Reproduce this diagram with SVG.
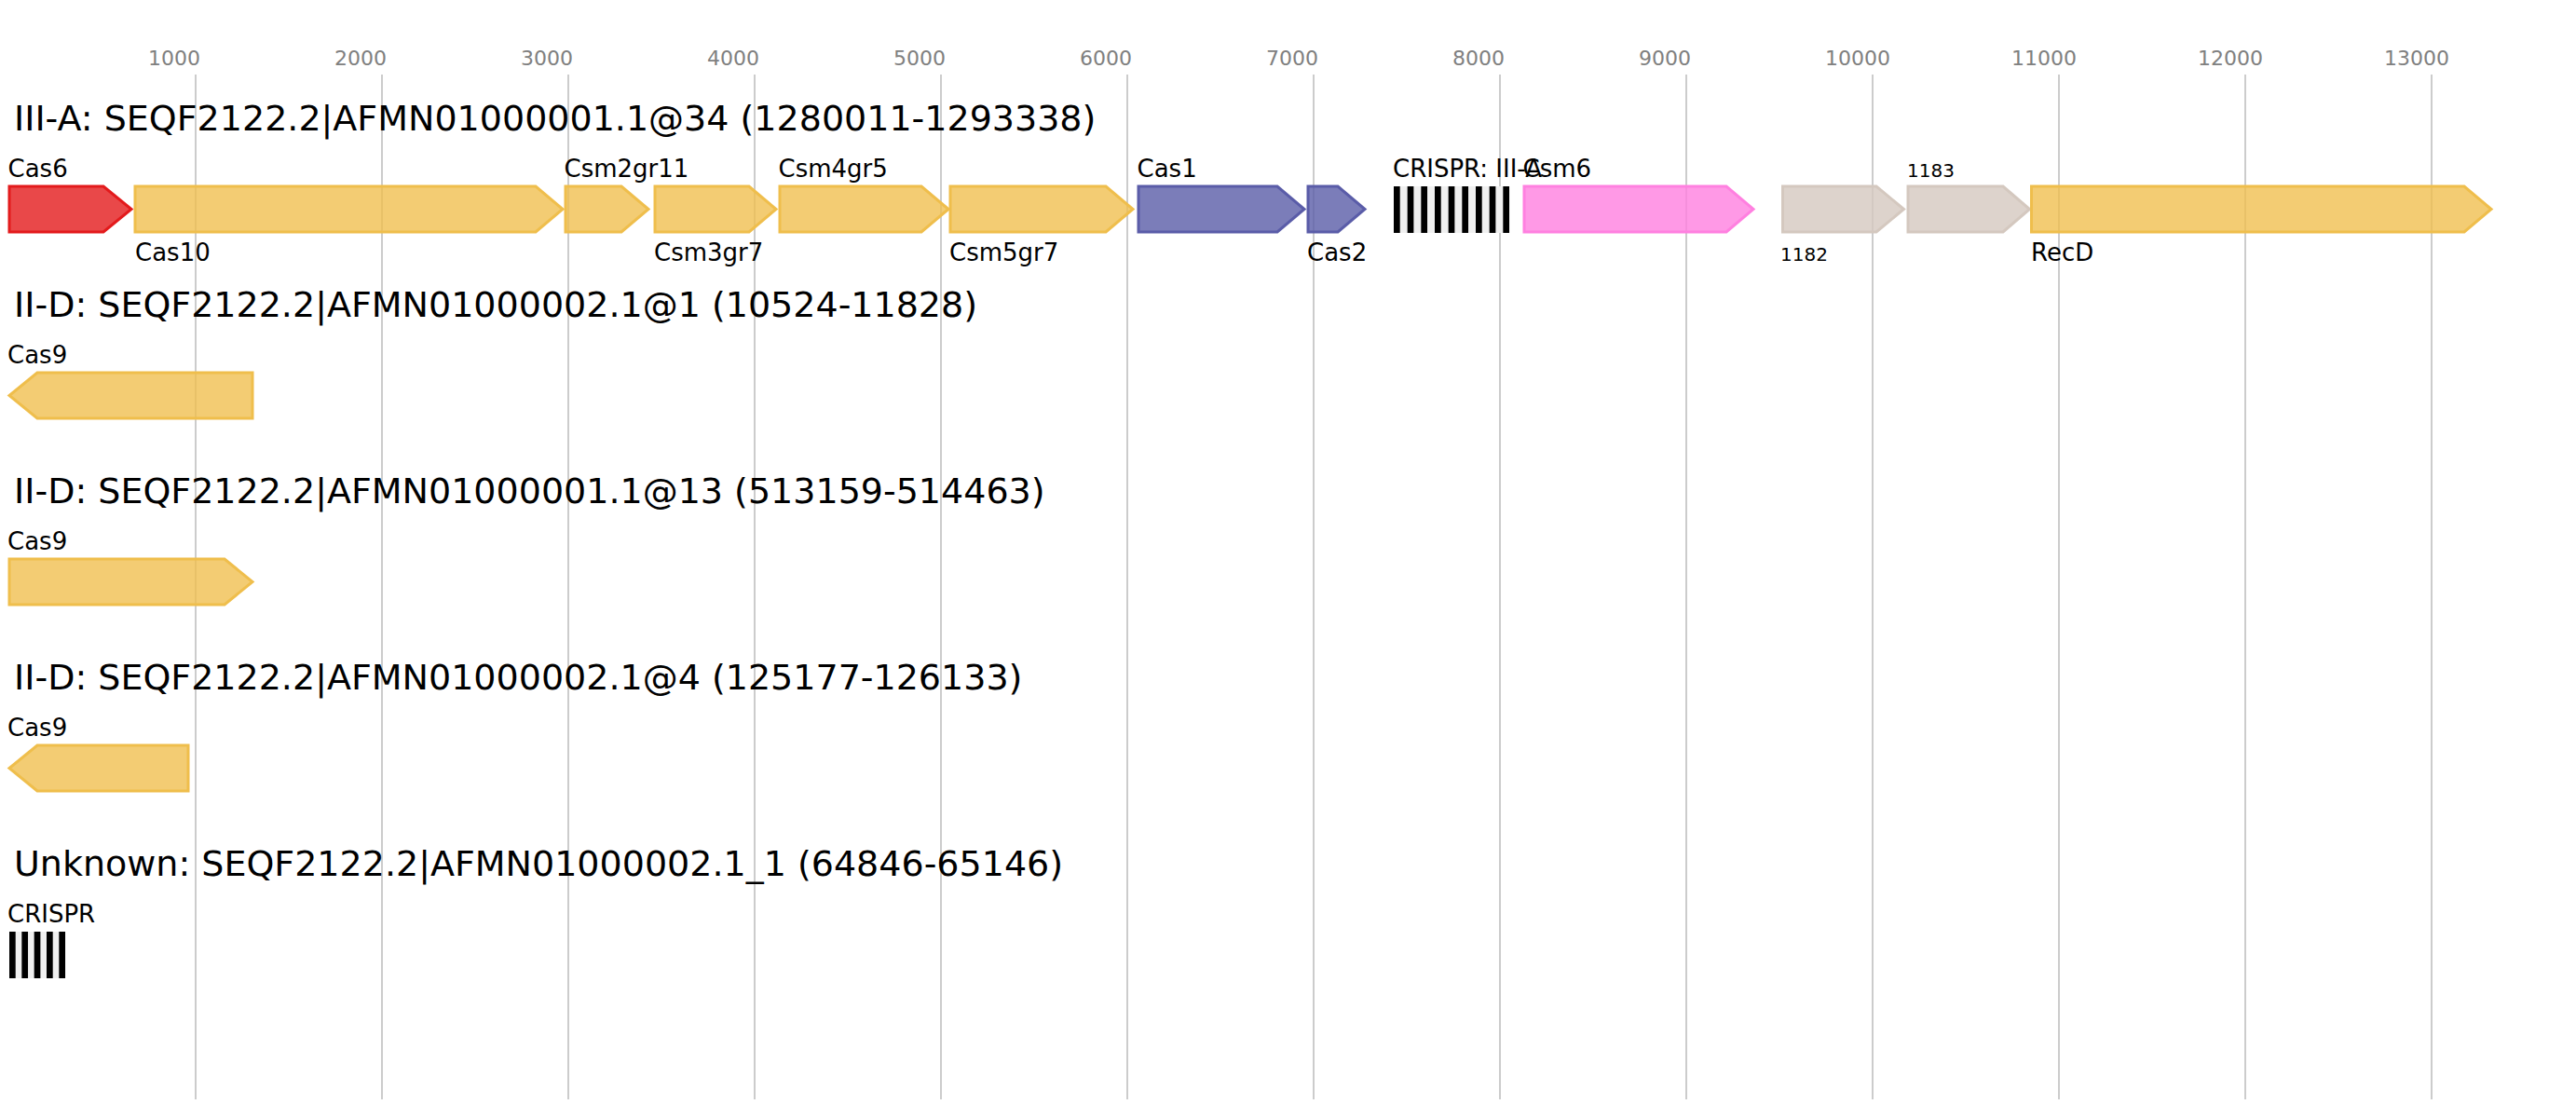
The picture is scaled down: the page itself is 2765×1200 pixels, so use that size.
<svg xmlns="http://www.w3.org/2000/svg" width="2765" height="1200" viewBox="0 0 2765 1200">
<style>
text{font-family:"DejaVu Sans","Liberation Sans",sans-serif;fill:#000}
.tick{font-size:22px;fill:#808080}
.grid{stroke:#bbbbbb;stroke-width:1.5}
.title{font-size:38px}
.lab{font-size:26px}
.sm{font-size:20px}
.g{stroke-width:3;stroke-linejoin:miter}
.red{fill:#e31a1c;fill-opacity:0.8;stroke:#e31a1c}
.yel{fill:#efbe4c;fill-opacity:0.78;stroke:#efbe4c}
.blu{fill:#5a5ca8;fill-opacity:0.8;stroke:#5a5ca8}
.pnk{fill:#ff80e0;fill-opacity:0.8;stroke:#ff80e0}
.gry{fill:#d4c8bf;fill-opacity:0.8;stroke:#d4c8bf}
.bg{fill:#f0f0f0}
.bar{fill:#000}
</style>
<rect width="2765" height="1200" fill="#fff"/>
<g id="axis">
<g id="grid">
<line class="grid" x1="210" y1="80" x2="210" y2="1180"/>
<line class="grid" x1="410" y1="80" x2="410" y2="1180"/>
<line class="grid" x1="610" y1="80" x2="610" y2="1180"/>
<line class="grid" x1="810" y1="80" x2="810" y2="1180"/>
<line class="grid" x1="1010" y1="80" x2="1010" y2="1180"/>
<line class="grid" x1="1210" y1="80" x2="1210" y2="1180"/>
<line class="grid" x1="1410" y1="80" x2="1410" y2="1180"/>
<line class="grid" x1="1610" y1="80" x2="1610" y2="1180"/>
<line class="grid" x1="1810" y1="80" x2="1810" y2="1180"/>
<line class="grid" x1="2010" y1="80" x2="2010" y2="1180"/>
<line class="grid" x1="2210" y1="80" x2="2210" y2="1180"/>
<line class="grid" x1="2410" y1="80" x2="2410" y2="1180"/>
<line class="grid" x1="2610" y1="80" x2="2610" y2="1180"/>
</g>
<g id="ticks">
<text class="tick" x="159" y="70">1000</text>
<text class="tick" x="359" y="70">2000</text>
<text class="tick" x="559" y="70">3000</text>
<text class="tick" x="759" y="70">4000</text>
<text class="tick" x="959" y="70">5000</text>
<text class="tick" x="1159" y="70">6000</text>
<text class="tick" x="1359" y="70">7000</text>
<text class="tick" x="1559" y="70">8000</text>
<text class="tick" x="1759" y="70">9000</text>
<text class="tick" x="1959" y="70">10000</text>
<text class="tick" x="2159" y="70">11000</text>
<text class="tick" x="2359" y="70">12000</text>
<text class="tick" x="2559" y="70">13000</text>
</g>
</g>
<g id="connectors"></g>
<g id="row1">
<text class="title" x="15" y="140">III-A: SEQF2122.2|AFMN01000001.1@34 (1280011-1293338)</text>
<g id="cas6"><path class="g red" d="M10,200 L111,200 L141,224.5 L111,249 L10,249 Z"/><text class="lab" x="8.5" y="190">Cas6</text></g>
<g id="cas10"><path class="g yel" d="M145,200 L575,200 L604,224.5 L575,249 L145,249 Z"/><text class="lab" x="145" y="280">Cas10</text></g>
<g id="csm2gr11"><path class="g yel" d="M607,200 L667,200 L696,224.5 L667,249 L607,249 Z"/><text class="lab" x="605.5" y="190">Csm2gr11</text></g>
<g id="csm3gr7"><path class="g yel" d="M703,200 L804,200 L833,224.5 L804,249 L703,249 Z"/><text class="lab" x="702" y="280">Csm3gr7</text></g>
<g id="csm4gr5"><path class="g yel" d="M837,200 L989,200 L1018,224.5 L989,249 L837,249 Z"/><text class="lab" x="835.5" y="190">Csm4gr5</text></g>
<g id="csm5gr7"><path class="g yel" d="M1020,200 L1187,200 L1216,224.5 L1187,249 L1020,249 Z"/><text class="lab" x="1019" y="280">Csm5gr7</text></g>
<g id="cas1"><path class="g blu" d="M1222,200 L1371,200 L1400,224.5 L1371,249 L1222,249 Z"/><text class="lab" x="1220.5" y="190">Cas1</text></g>
<g id="cas2"><path class="g blu" d="M1404,200 L1436,200 L1465,224.5 L1436,249 L1404,249 Z"/><text class="lab" x="1403" y="280">Cas2</text></g>
<g id="crispr1">
<rect class="bg" x="1496" y="200" width="122.7" height="50"/>
<rect class="bar" x="1496" y="200" width="6.7" height="50"/>
<rect class="bar" x="1510.67" y="200" width="6.7" height="50"/>
<rect class="bar" x="1525.33" y="200" width="6.7" height="50"/>
<rect class="bar" x="1540" y="200" width="6.7" height="50"/>
<rect class="bar" x="1554.67" y="200" width="6.7" height="50"/>
<rect class="bar" x="1569.33" y="200" width="6.7" height="50"/>
<rect class="bar" x="1584" y="200" width="6.7" height="50"/>
<rect class="bar" x="1598.67" y="200" width="6.7" height="50"/>
<rect class="bar" x="1613.33" y="200" width="6.7" height="50"/>
<text class="lab" x="1495" y="190">CRISPR: III-A</text>
</g>
<g id="csm6"><path class="g pnk" d="M1636,200 L1853,200 L1882,224.5 L1853,249 L1636,249 Z"/><text class="lab" x="1634.5" y="190">Csm6</text></g>
<g id="g1182"><path class="g gry" d="M1913.5,200 L2014,200 L2043.5,224.5 L2014,249 L1913.5,249 Z"/><text class="sm" x="1911" y="280">1182</text></g>
<g id="g1183"><path class="g gry" d="M2048,200 L2150,200 L2178.5,224.5 L2150,249 L2048,249 Z"/><text class="sm" x="2047" y="190">1183</text></g>
<g id="recd"><path class="g yel" d="M2180.5,200 L2645,200 L2674,224.5 L2645,249 L2180.5,249 Z"/><text class="lab" x="2180" y="280">RecD</text></g>
</g>
<g id="row2">
<text class="title" x="15" y="340">II-D: SEQF2122.2|AFMN01000002.1@1 (10524-11828)</text>
<g id="cas9a"><path class="g yel" d="M271,400 L40,400 L10,424.5 L40,449 L271,449 Z"/><text class="lab" x="8" y="390">Cas9</text></g>
</g>
<g id="row3">
<text class="title" x="15" y="540">II-D: SEQF2122.2|AFMN01000001.1@13 (513159-514463)</text>
<g id="cas9b"><path class="g yel" d="M10,600 L241,600 L271,624.5 L241,649 L10,649 Z"/><text class="lab" x="8" y="590">Cas9</text></g>
</g>
<g id="row4">
<text class="title" x="15" y="740">II-D: SEQF2122.2|AFMN01000002.1@4 (125177-126133)</text>
<g id="cas9c"><path class="g yel" d="M202,800 L40,800 L10,824.5 L40,849 L202,849 Z"/><text class="lab" x="8" y="790">Cas9</text></g>
</g>
<g id="row5">
<text class="title" x="15" y="940">Unknown: SEQF2122.2|AFMN01000002.1_1 (64846-65146)</text>
<g id="crispr2">
<rect class="bg" x="10" y="1000" width="60" height="50"/>
<rect class="bar" x="10" y="1000" width="6.7" height="50"/>
<rect class="bar" x="23.33" y="1000" width="6.7" height="50"/>
<rect class="bar" x="36.67" y="1000" width="6.7" height="50"/>
<rect class="bar" x="50" y="1000" width="6.7" height="50"/>
<rect class="bar" x="63.33" y="1000" width="6.7" height="50"/>
<text class="lab" x="8" y="990">CRISPR</text>
</g>
</g>
</svg>
